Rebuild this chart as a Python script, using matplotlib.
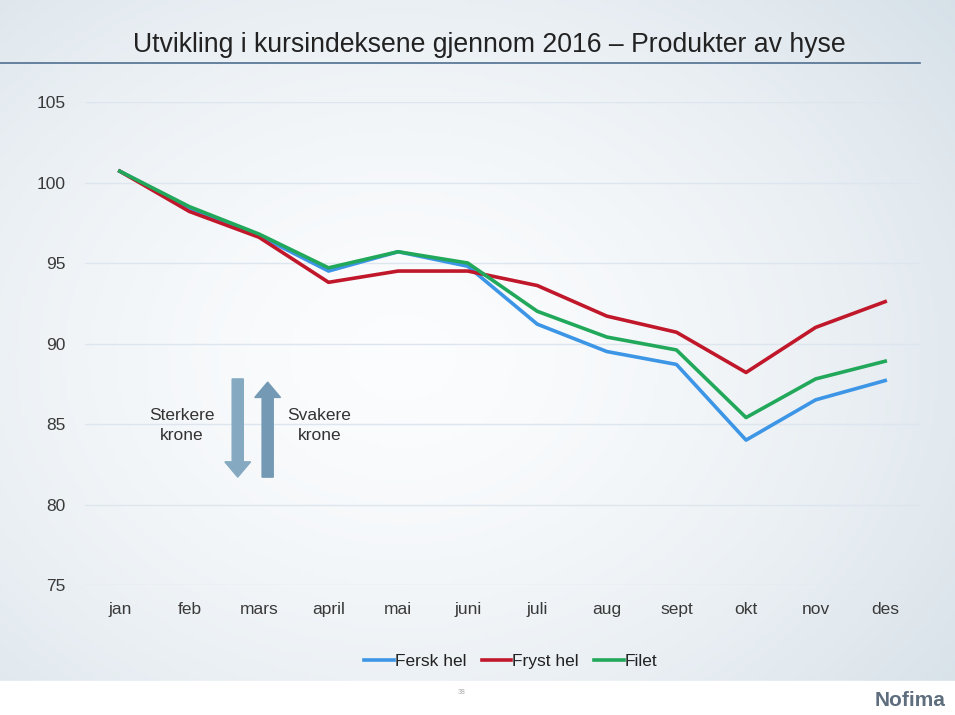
import numpy as np
import matplotlib
matplotlib.use("Agg")
import matplotlib.pyplot as plt
from matplotlib.patches import FancyArrow

plt.rcParams['font.family'] = ['Liberation Sans', 'DejaVu Sans']

months = ["jan", "feb", "mars", "april", "mai", "juni", "juli", "aug", "sept", "okt", "nov", "des"]
fersk_hel = [100.7, 98.4, 96.7, 94.5, 95.7, 94.8, 91.2, 89.5, 88.7, 84.0, 86.5, 87.7]
fryst_hel = [100.7, 98.2, 96.6, 93.8, 94.5, 94.5, 93.6, 91.7, 90.7, 88.2, 91.0, 92.6]
filet = [100.7, 98.5, 96.8, 94.7, 95.7, 95.0, 92.0, 90.4, 89.6, 85.4, 87.8, 88.9]

W, H = 955, 715
fig = plt.figure(figsize=(W / 100, H / 100), dpi=100)

# slide background: pale blue-grey, lighter toward the middle
bg = fig.add_axes([0, 0, 1, 1])
yy, xx = np.mgrid[0:1:200j, 0:1:260j]
d = np.sqrt(((xx - 0.42) / 0.75) ** 2 + ((yy - 0.5) / 0.8) ** 2)
d = np.clip(d, 0, 1)
c0 = np.array([0.985, 0.99, 0.995])
c1 = np.array([0.84, 0.88, 0.91])
img = c0 + (c1 - c0) * d[..., None] ** 1.6
bg.imshow(img, aspect="auto", extent=[0, 1, 0, 1], origin="lower")
bg.add_patch(plt.Rectangle((0, 0), 1, 34 / H, color="white", zorder=2))
bg.set_xlim(0, 1)
bg.set_ylim(0, 1)
bg.axis("off")

ax = fig.add_axes([85 / W, 1 - 585 / H, 835 / W, 483 / H])
ax.patch.set_alpha(0)
x = np.arange(len(months))
ax.plot(x, fersk_hel, color="#3d95e6", lw=2.6, label="Fersk hel", zorder=3)
ax.plot(x, fryst_hel, color="#c0182a", lw=2.6, label="Fryst hel", zorder=3)
ax.plot(x, filet, color="#21a85a", lw=2.6, label="Filet", zorder=4)
ax.set_xlim(-0.5, 11.5)
ax.set_ylim(75, 105)
ax.set_yticks([75, 80, 85, 90, 95, 100, 105])
ax.set_xticks(x)
ax.set_xticklabels(months)
ax.grid(axis="y", color="#dde6ee", lw=1)
ax.set_axisbelow(True)
for s in ax.spines.values():
    s.set_visible(False)
ax.tick_params(length=0, labelsize=12.5, colors="#3a3a3a")
ax.tick_params(axis="x", pad=12)
ax.tick_params(axis="y", pad=14)

leg = ax.legend(loc="upper center", bbox_to_anchor=(0.51, -0.11), ncol=3, frameon=False,
                fontsize=12.5, handlelength=1.7, handletextpad=0.05, columnspacing=0.9,
                labelcolor="#222222")

# arrows and texts
ax.add_patch(FancyArrow(1.695, 87.8, 0, -6.1, width=0.16, head_width=0.37, head_length=0.95,
                        length_includes_head=True, color="#86a9c2", zorder=2))
ax.add_patch(FancyArrow(2.125, 81.7, 0, 5.9, width=0.16, head_width=0.37, head_length=0.95,
                        length_includes_head=True, color="#7399b4", zorder=2))
ax.text(0.89, 84.9, "Sterkere\nkrone", ha="center", va="center", fontsize=12.5,
        color="#333333", linespacing=1.4)
ax.text(2.87, 84.9, "Svakere\nkrone", ha="center", va="center", fontsize=12.5,
        color="#333333", linespacing=1.4)

# title and underline
fig.text(489 / W, 1 - 45 / H, "Utvikling i kursindeksene gjennom 2016 \u2013 Produkter av hyse",
         ha="center", va="center", fontsize=19.2, color="#222222")
bg.plot([0, 920 / W], [1 - 63 / H, 1 - 63 / H], color="#4f6f8f", lw=1.2, zorder=3)

fig.text(462 / W, 1 - 692 / H, "38", ha="center", va="center", fontsize=5, color="#aaaaaa")
fig.text(945 / W, 1 - 700 / H, "Nofima", ha="right", va="center", fontsize=15,
         fontweight="bold", color="#5e6e7e")

fig.savefig("out.png", dpi=100)
